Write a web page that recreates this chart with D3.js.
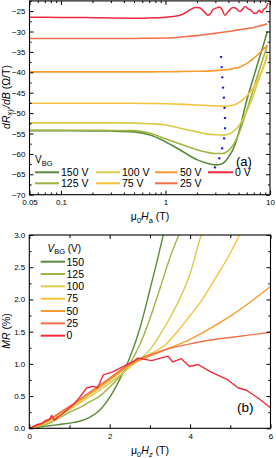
<!DOCTYPE html>
<html><head><meta charset="utf-8">
<script src="https://cdn.jsdelivr.net/npm/d3@7"></script>
<style>
html,body{margin:0;padding:0;background:#fff;}
svg{display:block;font-family:"Liberation Sans",Arial,sans-serif;}
</style></head>
<body><svg id="c" width="276" height="458"></svg>
<script>
// ---------- data: panel (a) ----------
const gateLabels = ["150 V","125 V","100 V","75 V","50 V","25 V","0 V"];
const gateShort  = ["150","125","100","75","50","25","0"];
const colors = ["#5a8a3a","#a0b444","#d8cc48","#f4c43c","#f89a30","#f0704c","#f02a3c"];

const fieldA = [0.05,0.1,0.2,0.3,0.5,0.7,1,1.5,2,2.5,3,3.5,4,4.5,5,6,7,8,9,9.4];
const dR150 = [-54.3,-54.3,-54.35,-54.4,-54.6,-55.3,-57.0,-59.6,-61.4,-62.3,-62.7,-62.4,-60.8,-58.5,-55.0,-46.8,-41.0,-36.1,-31.8,-30.0];
const dR125 = [-54.2,-54.2,-54.2,-54.25,-54.3,-54.9,-56.3,-57.9,-59.0,-59.6,-59.9,-59.9,-59.2,-57.6,-55.2,-49.3,-43.8,-39.0,-35.0,-33.5];
const dR100 = [-52.4,-52.4,-52.4,-52.4,-52.45,-52.6,-52.9,-53.9,-54.6,-55.1,-55.3,-55.4,-55.2,-54.4,-53.2,-49.6,-45.3,-41.0,-37.3,-35.5];
const dR75  = [-47.6,-47.6,-47.6,-47.6,-47.6,-47.65,-47.7,-47.85,-48.0,-48.15,-48.25,-48.3,-48.25,-48.0,-47.5,-45.8,-43.6,-40.8,-37.6,-36.2];
const dR50  = [-39.9,-39.9,-39.9,-39.9,-39.9,-39.9,-39.85,-39.8,-39.75,-39.7,-39.6,-39.45,-39.3,-39.05,-38.8,-37.8,-36.5,-35.2,-33.9,-33.4];
const dR25  = [-31.7,-31.7,-31.7,-31.7,-31.7,-31.65,-31.6,-31.3,-31.0,-30.7,-30.45,-30.2,-30.0,-29.8,-29.6,-29.3,-29.0,-28.6,-28.3,-28.1];
const fieldA0 = [0.05,0.1,0.2,0.3,0.5,0.7,1,1.2,1.38,1.55,1.71,1.92,2.12,2.35,2.55,2.7,2.85,3.1,3.3,3.47,3.7,3.95,4.1,4.35,4.6,4.9,5.2,5.5,5.8,6.2,6.6,7.0,7.4,7.9,8.3,8.7,9.1,9.6];
const dR0   = [-26.5,-26.55,-26.6,-26.7,-26.75,-26.7,-26.5,-26.3,-26.0,-25.4,-24.7,-24.1,-24.2,-25.2,-26.0,-25.6,-24.6,-24.2,-24.0,-24.6,-26.0,-25.2,-24.8,-24.2,-24.2,-24.7,-25.1,-24.4,-23.9,-24.5,-24.8,-25.5,-25.5,-24.8,-25.4,-24.6,-24.2,-23.0];
const minH = [3.40,3.45,3.50,3.57,3.63,3.69,3.71,3.69,3.57,3.32,3.09,2.83];
const minV = [-36.0,-38.65,-41.5,-44.4,-46.8,-49.3,-51.7,-55.0,-57.4,-60.7,-62.3,-64.8];

const xTicksA = [0.05,0.1,1,10];
const yTicksA = [-70,-65,-60,-55,-50,-45,-40,-35,-30,-25];

// ---------- data: panel (b) ----------
const h150 = [0,0.25,0.5,0.75,1,1.25,1.5,1.75,2,2.25,2.5,2.75,3,3.2,3.35];
const mr150 = [0,0.02,0.04,0.06,0.08,0.11,0.17,0.28,0.48,0.76,1.1,1.55,2.15,2.65,3.05];
const h125 = [0,0.25,0.5,0.75,1,1.25,1.5,1.75,2,2.25,2.5,2.75,3,3.25,3.5,3.75];
const mr125 = [0,0.03,0.08,0.16,0.25,0.32,0.41,0.5,0.64,0.8,1.0,1.3,1.7,2.17,2.65,3.05];
const h100 = [0,0.25,0.5,0.75,1,1.5,2,2.5,3,3.25,3.5,3.75,4,4.25,4.3];
const mr100 = [0,0.04,0.1,0.2,0.29,0.49,0.7,0.95,1.22,1.45,1.72,2.02,2.4,2.95,3.05];
const h75 = [0,0.25,0.5,0.75,1,1.5,2,2.5,3,3.37,3.75,4,4.25,4.5,4.75,5,5.25];
const mr75 = [0,0.05,0.12,0.22,0.31,0.52,0.74,0.98,1.15,1.29,1.55,1.75,1.95,2.2,2.45,2.72,3.03];
const h50 = [0,0.25,0.5,0.75,1,1.5,2,2.5,3,3.5,4,4.5,5,5.5,6];
const mr50 = [0,0.05,0.13,0.23,0.33,0.54,0.76,0.98,1.12,1.25,1.38,1.55,1.74,1.96,2.2];
const h25 = [0,0.25,0.5,0.75,1,1.5,2,2.5,2.7,3,3.5,4,4.5,5,5.5,6];
const mr25 = [0,0.06,0.14,0.24,0.34,0.56,0.78,1.0,1.07,1.14,1.24,1.31,1.37,1.41,1.45,1.49];
const h0 = [0,0.1,0.2,0.3,0.4,0.5,0.56,0.62,0.7,0.8,1.0,1.1,1.25,1.43,1.59,1.7,1.84,2.09,2.34,2.59,2.7,3.04,3.45,3.57,3.78,3.99,4.2,4.5,4.94,5.19,5.4,5.69,6.0];
const mr0 = [0,0.03,0.06,0.07,0.12,0.14,0.2,0.13,0.17,0.21,0.32,0.37,0.48,0.63,0.65,0.63,0.83,0.88,0.96,1.04,1.09,1.05,1.12,1.03,1.08,0.96,0.99,0.88,0.75,0.63,0.59,0.47,0.32];

const xTicksB = [0,1,2,3,4,5,6];
const yTicksB = [0,0.5,1,1.5,2,2.5,3];

// ---------- drawing ----------
const svg = d3.select("#c");
const FONT = 8, LFONT = 10.5;

function frame(x0,x1,y0,y1){
  svg.append("rect").attr("x",x0).attr("y",y0).attr("width",x1-x0).attr("height",y1-y0)
    .attr("fill","none").attr("stroke","#000").attr("stroke-width",1.1);
}
function styleAxis(g){
  g.select(".domain").remove();
  g.selectAll("line").attr("stroke","#000").attr("stroke-width",1);
  g.selectAll("text").attr("font-size",FONT).attr("fill","#000").attr("font-family",'"Liberation Sans",Arial,sans-serif');
}

// Panel (a)
const xA = d3.scaleLog().domain([0.05,10]).range([29.5,270]);
const yA = d3.scaleLinear().domain([-70,-22.5]).range([194.7,0.9]);
const minorA = [];
for (let d of [0.01,0.1,1]) for (let k=2;k<=9;k++){ const v=d*k; if(v>0.05&&v<10&&![0.1,1].includes(v)) minorA.push(v); }
const fmtA = d=> d===0.05?"0.05":d===0.1?"0.1":d===1?"1":"10";

svg.append("defs").append("clipPath").attr("id","clipA").append("rect")
  .attr("x",29.5).attr("y",0.9).attr("width",270-29.5).attr("height",194.7-0.9);
svg.select("defs").append("clipPath").attr("id","clipB").append("rect")
  .attr("x",29.3).attr("y",235).attr("width",270.5-29.3).attr("height",428.3-235);

const gA = svg.append("g").attr("clip-path","url(#clipA)");
const seriesA = [dR150,dR125,dR100,dR75,dR50,dR25];
const lineA = d3.line().x(d=>xA(d[0])).y(d=>yA(d[1])).curve(d3.curveMonotoneX);
seriesA.forEach((s,i)=>{
  gA.append("path").attr("d",lineA(fieldA.map((h,j)=>[h,s[j]])))
    .attr("fill","none").attr("stroke",colors[i]).attr("stroke-width",1.6);
});
gA.append("path").attr("d",lineA(fieldA0.map((h,j)=>[h,dR0[j]])))
  .attr("fill","none").attr("stroke",colors[6]).attr("stroke-width",1.5);
gA.append("path").attr("d",d3.line().x(d=>xA(d[0])).y(d=>yA(d[1])).curve(d3.curveCatmullRom)(minH.map((h,j)=>[h,minV[j]])))
  .attr("fill","none").attr("stroke","#1a1aee").attr("stroke-width",2.2).attr("stroke-dasharray","2,8.2");

// axes (a)
let g;
g = svg.append("g").attr("transform","translate(0,194.7)").call(d3.axisBottom(xA).tickValues(xTicksA).tickFormat(fmtA).tickSize(-4).tickPadding(4.5)); styleAxis(g);
g = svg.append("g").attr("transform","translate(0,194.7)").call(d3.axisBottom(xA).tickValues(minorA).tickFormat("").tickSize(-2.2)); styleAxis(g);
g = svg.append("g").attr("transform","translate(0,0.9)").call(d3.axisTop(xA).tickValues(xTicksA).tickFormat("").tickSize(-4)); styleAxis(g);
g = svg.append("g").attr("transform","translate(0,0.9)").call(d3.axisTop(xA).tickValues(minorA).tickFormat("").tickSize(-2.2)); styleAxis(g);
const yMinorA = d3.range(-67.5,-22,5);
g = svg.append("g").attr("transform","translate(29.5,0)").call(d3.axisLeft(yA).tickValues(yTicksA).tickSize(-4).tickPadding(4)); styleAxis(g);
g = svg.append("g").attr("transform","translate(29.5,0)").call(d3.axisLeft(yA).tickValues(yMinorA).tickFormat("").tickSize(-2.2)); styleAxis(g);
g = svg.append("g").attr("transform","translate(270,0)").call(d3.axisRight(yA).tickValues(yTicksA).tickFormat("").tickSize(-4)); styleAxis(g);
g = svg.append("g").attr("transform","translate(270,0)").call(d3.axisRight(yA).tickValues(yMinorA).tickFormat("").tickSize(-2.2)); styleAxis(g);
frame(29.5,270,0.9,194.7);

// titles (a)
let t = svg.append("text").attr("x",150).attr("y",220).attr("text-anchor","middle").attr("font-size",LFONT);
t.append("tspan").text("μ");
t.append("tspan").attr("font-size",7.5).attr("dy",2.5).text("0");
t.append("tspan").attr("dy",-2.5).attr("font-style","italic").text("H");
t.append("tspan").attr("font-size",7.5).attr("dy",2.5).text("a");
t.append("tspan").attr("dy",-2.5).text(" (T)");

t = svg.append("text").attr("transform","translate(9.5,97) rotate(-90)").attr("text-anchor","middle").attr("font-size",LFONT);
t.append("tspan").attr("font-style","italic").text("dR");
t.append("tspan").attr("font-size",7.5).attr("dy",2.5).attr("font-style","italic").text("xy");
t.append("tspan").attr("dy",-2.5).attr("font-style","italic").text("/dB");
t.append("tspan").text(" (Ω/T)");

svg.append("text").attr("x",236).attr("y",166).attr("font-size",13).text("(a)");

// legend (a)
t = svg.append("text").attr("x",35).attr("y",163).attr("font-size",10);
t.append("tspan").text("V");
t.append("tspan").attr("font-size",7.5).attr("dy",2.5).text("BG");
const colX = [[35,59,61],[96,120,122],[155,177.5,180],[208,233,235]];
const rowY = [172.3,183.3];
gateLabels.forEach((lab,i)=>{
  const c = colX[Math.floor(i/2)], r = rowY[i%2];
  svg.append("line").attr("x1",c[0]).attr("x2",c[1]).attr("y1",r).attr("y2",r)
    .attr("stroke",colors[i]).attr("stroke-width",2);
  svg.append("text").attr("x",c[2]).attr("y",r+3.8).attr("font-size",LFONT).text(lab);
});

// Panel (b)
const xB = d3.scaleLinear().domain([0,6]).range([29.3,270.5]);
const yB = d3.scaleLinear().domain([0,3]).range([428.3,235]);
const gB = svg.append("g").attr("clip-path","url(#clipB)");
const seriesB = [[h150,mr150],[h125,mr125],[h100,mr100],[h75,mr75],[h50,mr50],[h25,mr25]];
const lineB = d3.line().x(d=>xB(d[0])).y(d=>yB(d[1])).curve(d3.curveMonotoneX);
seriesB.forEach((s,i)=>{
  gB.append("path").attr("d",lineB(s[0].map((h,j)=>[h,s[1][j]])))
    .attr("fill","none").attr("stroke",colors[i]).attr("stroke-width",1.4);
});
gB.append("path").attr("d",d3.line().x(d=>xB(d[0])).y(d=>yB(d[1]))(h0.map((h,j)=>[h,mr0[j]])))
  .attr("fill","none").attr("stroke",colors[6]).attr("stroke-width",1.4).attr("stroke-linejoin","round");

const xMajB = xTicksB.filter(v=>v%2===0), xMinB = xTicksB.filter(v=>v%2===1);
const yMinB = d3.range(0.25,3,0.5);
g = svg.append("g").attr("transform","translate(0,428.3)").call(d3.axisBottom(xB).tickValues(xMajB).tickFormat(d3.format("d")).tickSize(-4).tickPadding(4.7)); styleAxis(g);
g = svg.append("g").attr("transform","translate(0,428.3)").call(d3.axisBottom(xB).tickValues(xMinB).tickFormat("").tickSize(-3)); styleAxis(g);
g = svg.append("g").attr("transform","translate(0,235)").call(d3.axisTop(xB).tickValues(xMajB).tickFormat("").tickSize(-4)); styleAxis(g);
g = svg.append("g").attr("transform","translate(0,235)").call(d3.axisTop(xB).tickValues(xMinB).tickFormat("").tickSize(-3)); styleAxis(g);
g = svg.append("g").attr("transform","translate(29.3,0)").call(d3.axisLeft(yB).tickValues(yTicksB).tickFormat(d3.format(".1f")).tickSize(-4).tickPadding(4)); styleAxis(g);
g = svg.append("g").attr("transform","translate(29.3,0)").call(d3.axisLeft(yB).tickValues(yMinB).tickFormat("").tickSize(-2.2)); styleAxis(g);
g = svg.append("g").attr("transform","translate(270.5,0)").call(d3.axisRight(yB).tickValues(yTicksB).tickFormat("").tickSize(-4)); styleAxis(g);
g = svg.append("g").attr("transform","translate(270.5,0)").call(d3.axisRight(yB).tickValues(yMinB).tickFormat("").tickSize(-2.2)); styleAxis(g);
frame(29.3,270.5,235,428.3);

t = svg.append("text").attr("x",150).attr("y",454).attr("text-anchor","middle").attr("font-size",LFONT);
t.append("tspan").text("μ");
t.append("tspan").attr("font-size",7.5).attr("dy",2.5).text("0");
t.append("tspan").attr("dy",-2.5).attr("font-style","italic").text("H");
t.append("tspan").attr("font-size",7.5).attr("dy",2.5).attr("font-style","italic").text("z");
t.append("tspan").attr("dy",-2.5).text(" (T)");

t = svg.append("text").attr("transform","translate(10,331) rotate(-90)").attr("text-anchor","middle").attr("font-size",LFONT);
t.append("tspan").attr("font-style","italic").text("MR");
t.append("tspan").text(" (%)");

svg.append("text").attr("x",237).attr("y",411.5).attr("font-size",13.5).text("(b)");

t = svg.append("text").attr("x",47.5).attr("y",251.5).attr("font-size",10);
t.append("tspan").attr("font-style","italic").text("V");
t.append("tspan").attr("font-size",7.5).attr("dy",2.5).text("BG");
t.append("tspan").attr("dy",-2.5).text(" (V)");
gateShort.forEach((lab,i)=>{
  const r = 261.7 + i*12.33;
  svg.append("line").attr("x1",40.7).attr("x2",65).attr("y1",r).attr("y2",r)
    .attr("stroke",colors[i]).attr("stroke-width",2);
  svg.append("text").attr("x",66.5).attr("y",r+3.8).attr("font-size",LFONT).text(lab);
});
</script></body></html>
